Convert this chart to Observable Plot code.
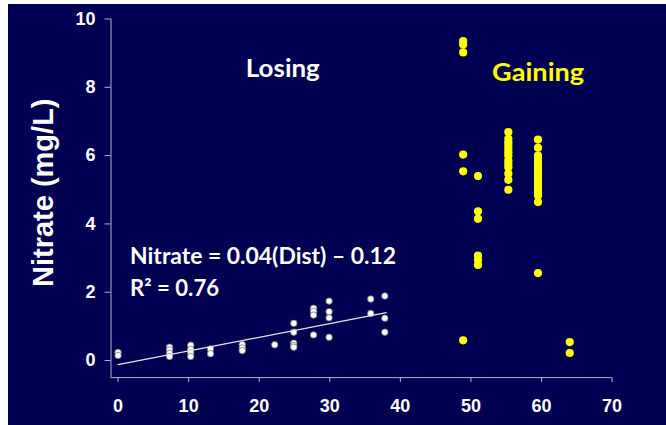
<!DOCTYPE html>
<html><head><meta charset="utf-8">
<script src="https://cdn.jsdelivr.net/npm/d3@7"></script>
<script src="https://cdn.jsdelivr.net/npm/@observablehq/plot@0.6"></script>
<style>
html,body{margin:0;padding:0;background:#fff;}
#chart{width:666px;height:425px;}
</style></head><body><div id="chart"></div>
<script>
// Losing reach (white points)
const losingDist = [0,0, 7.3,7.3,7.3,7.3, 10.3,10.3,10.3,10.3, 13.1,13.1, 17.6,17.6,17.6, 22.2, 24.9,24.9,24.9,24.9,24.9, 27.7,27.7,27.7,27.7, 29.9,29.9,29.9,29.9, 35.8,35.8, 37.8,37.8,37.8];
const losingNitrate = [0.24,0.15, 0.39,0.31,0.21,0.12, 0.45,0.33,0.22,0.12, 0.34,0.20, 0.47,0.37,0.29, 0.46, 1.09,0.83,0.51,0.44,0.39, 1.53,1.44,1.33,0.75, 1.74,1.43,1.25,0.68, 1.80,1.38, 1.89,1.24,0.83];
// Gaining reach (yellow points)
const gainingDist = [48.9,48.9,48.9,48.9,48.9,48.9, 51,51,51,51,51,51,
  55.3,55.3,55.3,55.3,55.3,55.3,55.3,55.3,55.3,55.3,55.3,55.3,55.3,
  59.5,59.5,59.5,59.5,59.5,59.5,59.5,59.5,59.5,59.5,59.5,59.5,59.5,59.5,59.5,59.5,59.5,
  64,64];
const gainingNitrate = [9.35,9.25,9.02,6.03,5.54,0.59, 5.40,4.37,4.15,3.07,2.95,2.80,
  6.69,6.49,6.39,6.30,6.20,6.10,6.00,5.86,5.76,5.66,5.47,5.29,5.00,
  6.47,6.23,6.00,5.91,5.81,5.71,5.61,5.51,5.42,5.32,5.22,5.12,5.03,4.93,4.83,4.64,2.56,
  0.54,0.22];
// Regression line: Nitrate = 0.04(Dist) - 0.12, drawn over the losing range
const trendSlope = 0.04, trendIntercept = -0.12;
const trendDist = [0, 38];
// Ticks
const xTicks = [0,10,20,30,40,50,60,70];
const yTicks = [0,2,4,6,8,10];
// Annotations
const labelText = ["Losing", "Gaining", "Nitrate = 0.04(Dist) \u2013 0.12", "R\u00b2 = 0.76"];
const labelDist = [18.1, 53.0, 1.7, 1.7];
const labelNitrate = [8.31, 8.18, 2.82, 1.90];
const labelColor = ["white", "#ffff00", "white", "white"];
const labelSize = [25, 25, 22, 22];
const labelWidth = [74, 92, 266, 89];

const losing = losingDist.map((d, i) => ({dist: d, nitrate: losingNitrate[i]}));
const gaining = gainingDist.map((d, i) => ({dist: d, nitrate: gainingNitrate[i]}));
const trend = trendDist.map(d => ({dist: d, nitrate: trendSlope * d + trendIntercept}));
const labels = labelText.map((t, i) => ({text: t, dist: labelDist[i], nitrate: labelNitrate[i], color: labelColor[i], size: labelSize[i]}));

const axisColor = "#b4b4c8";
const marks = [
  Plot.ruleX([-1], {stroke: axisColor, strokeWidth: 1}),
  Plot.ruleY([-0.5], {stroke: axisColor, strokeWidth: 1}),
  Plot.axisX(xTicks, {tickSize: 5, tickPadding: 17, fontSize: 18, fontWeight: "bold", fill: "white", stroke: axisColor, label: null}),
  Plot.axisY(yTicks, {tickSize: 6, tickPadding: 9.5, fontSize: 18, fontWeight: "bold", fill: "white", stroke: axisColor, label: null}),
  Plot.dot(losing, {x: "dist", y: "nitrate", r: 3.2, fill: "white", stroke: "#7a7a7a", strokeWidth: 0.8}),
  Plot.line(trend, {x: "dist", y: "nitrate", stroke: "#e6e6e6", strokeWidth: 1.2}),
  Plot.dot(gaining, {x: "dist", y: "nitrate", r: 4.1, fill: "#ffff00"})
];
labels.forEach(l => marks.push(Plot.text([l], {x: "dist", y: "nitrate", text: "text", fill: l.color, fontSize: l.size, fontWeight: "bold", fontFamily: "Lato", textAnchor: "start", lineAnchor: "bottom"})));

const chart = Plot.plot({
  width: 666, height: 425,
  marginLeft: 110.5, marginRight: 54.4, marginTop: 18.5, marginBottom: 47.9,
  x: {domain: [-1, 70]},
  y: {domain: [-0.5, 10]},
  style: {background: "linear-gradient(#000052,#000052) 8px 4px / 658px 421px no-repeat, #ffffff", fontFamily: "Liberation Sans", color: "white"},
  marks
});

const svg = d3.select(chart);
svg.selectAll("text").each(function() {
  const i = labelText.indexOf(this.textContent);
  if (i >= 0) d3.select(this).attr("textLength", labelWidth[i]).attr("lengthAdjust", "spacingAndGlyphs");
});
svg.append("text")
  .attr("transform", "translate(53.3,287) rotate(-90)")
  .attr("text-anchor", "start")
  .attr("fill", "white")
  .attr("font-family", "Liberation Sans")
  .attr("font-weight", "bold")
  .attr("font-size", 29)
  .text("Nitrate (mg/L)");

document.getElementById("chart").appendChild(chart);
</script>
</body></html>
